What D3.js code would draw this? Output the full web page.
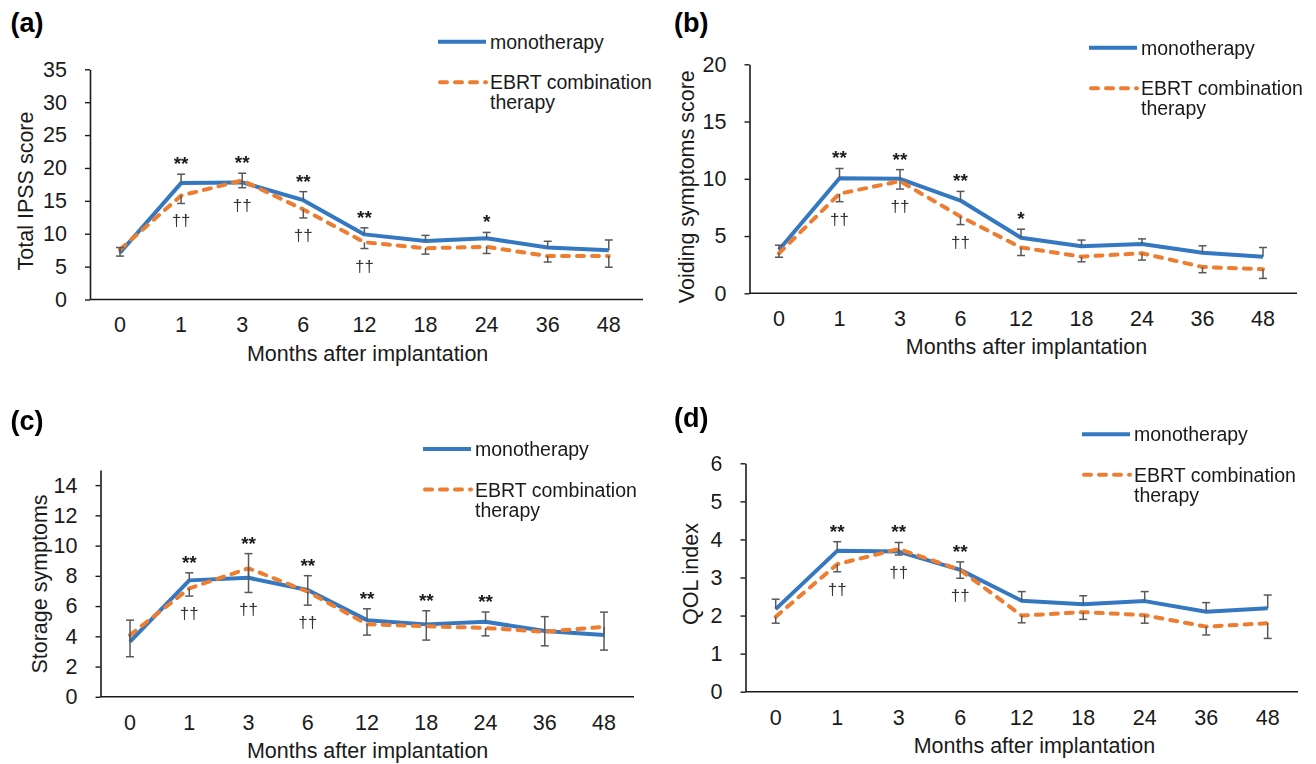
<!DOCTYPE html>
<html><head><meta charset="utf-8">
<script src="https://cdn.jsdelivr.net/npm/d3@7"></script>
<style>
html,body{margin:0;padding:0;background:#fff;}
svg{display:block;font-family:"Liberation Sans", Arial, sans-serif;}
.ann{opacity:0.995;will-change:transform;}
</style></head><body>
<svg id="chart" width="1316" height="764"></svg>
<script>
// ---------- data ----------
const months = ["0","1","3","6","12","18","24","36","48"];
const legendMono = "monotherapy";
const legendEbrt = ["EBRT combination", "therapy"];
const xTitle = "Months after implantation";

// (a) Total IPSS score
const monoIPSS    = [7.1, 17.7, 17.8, 15.1, 9.9, 8.9, 9.3, 7.9, 7.5];
const monoIPSSErr = [0.8, 1.35, 1.4, 1.3, 1.0, 0.85, 0.9, 0.95, 1.55];
const ebrtIPSS    = [7.6, 15.8, 18.1, 13.7, 8.7, 7.8, 8.0, 6.6, 6.6];
const ebrtIPSSErr = [1.0, 1.2, 1.1, 1.3, 0.95, 0.9, 1.0, 0.9, 1.7];
const starIPSS    = ["", "**", "**", "**", "**", "", "*", "", ""];
const daggerIPSS  = ["", "††", "††", "††", "††", "", "", "", ""];
const ticksIPSS   = [0, 5, 10, 15, 20, 25, 30, 35];

// (b) Voiding symptoms score
const monoVoid    = [3.8, 10.05, 10.0, 8.1, 4.85, 4.1, 4.3, 3.55, 3.2];
const monoVoidErr = [0.4, 0.85, 0.8, 0.8, 0.75, 0.55, 0.45, 0.6, 0.8];
const ebrtVoid    = [3.5, 8.7, 9.8, 6.7, 4.0, 3.2, 3.5, 2.3, 2.1];
const ebrtVoidErr = [0.35, 0.7, 0.7, 0.7, 0.7, 0.45, 0.6, 0.5, 0.8];
const starVoid    = ["", "**", "**", "**", "*", "", "", "", ""];
const daggerVoid  = ["", "††", "††", "††", "", "", "", "", ""];
const ticksVoid   = [0, 5, 10, 15, 20];

// (c) Storage symptoms
const monoStor    = [3.65, 7.7, 7.87, 7.06, 5.07, 4.79, 4.96, 4.35, 4.08];
const monoStorErr = [1.42, 0.5, 1.6, 0.95, 0.75, 0.9, 0.65, 0.95, 1.52];
const ebrtStor    = [4.08, 7.17, 8.5, 6.95, 4.8, 4.67, 4.55, 4.3, 4.63];
const ebrtStorErr = [1.43, 0.51, 1.6, 0.89, 0.72, 0.92, 0.52, 0.93, 1.54];
const starStor    = ["", "**", "**", "**", "**", "**", "**", "", ""];
const daggerStor  = ["", "††", "††", "††", "", "", "", "", ""];
const ticksStor   = [0, 2, 4, 6, 8, 10, 12, 14];

// (d) QOL index
const monoQOL     = [2.17, 3.7, 3.68, 3.2, 2.39, 2.3, 2.38, 2.1, 2.19];
const monoQOLErr  = [0.26, 0.24, 0.24, 0.21, 0.24, 0.22, 0.25, 0.24, 0.35];
const ebrtQOL     = [1.97, 3.35, 3.75, 3.2, 2.0, 2.09, 2.01, 1.71, 1.8];
const ebrtQOLErr  = [0.17, 0.2, 0.16, 0.22, 0.19, 0.19, 0.21, 0.22, 0.4];
const starQOL     = ["", "**", "**", "**", "", "", "", "", ""];
const daggerQOL   = ["", "††", "††", "††", "", "", "", "", ""];
const ticksQOL    = [0, 1, 2, 3, 4, 5, 6];

const panels = [
  {label:"(a)", yTitle:"Total IPSS score", yMax:35, ticks:ticksIPSS,
   mono:monoIPSS, monoErr:monoIPSSErr, ebrt:ebrtIPSS, ebrtErr:ebrtIPSSErr, star:starIPSS, dagger:daggerIPSS},
  {label:"(b)", yTitle:"Voiding symptoms score", yMax:20, ticks:ticksVoid,
   mono:monoVoid, monoErr:monoVoidErr, ebrt:ebrtVoid, ebrtErr:ebrtVoidErr, star:starVoid, dagger:daggerVoid},
  {label:"(c)", yTitle:"Storage symptoms", yMax:15, ticks:ticksStor,
   mono:monoStor, monoErr:monoStorErr, ebrt:ebrtStor, ebrtErr:ebrtStorErr, star:starStor, dagger:daggerStor},
  {label:"(d)", yTitle:"QOL index", yMax:6, ticks:ticksQOL,
   mono:monoQOL, monoErr:monoQOLErr, ebrt:ebrtQOL, ebrtErr:ebrtQOLErr, star:starQOL, dagger:daggerQOL}
];

// ---------- layout ----------
const layout = [
  {lab:[10.5,32], axisX:90,    x0:89.45,  step:61.1,  axisRight:643,  top:69.3,  bottom:299.5, yt:[26,191],   xt:367.6,  leg:[438,41.7]},
  {lab:[674,32],  axisX:749.5, x0:748.75, step:60.5,  axisRight:1297, top:64.3,  bottom:293.3, yt:[687,186.7], xt:1026.5, leg:[1089,47.7]},
  {lab:[10.5,430],axisX:100.5, x0:100.4,  step:59.25, axisRight:634,  top:470,   bottom:696.8, yt:[40,584],   xt:367.6,  leg:[423,449]},
  {lab:[674,427], axisX:745.5, x0:744.95, step:61.5,  axisRight:1298, top:463.3, bottom:691.7, yt:[691,574],  xt:1034.4, leg:[1082,434.3]}
];

const BLUE = "#3478c1", ORANGE = "#ed7d31", ERR = "#595959", INK = "#1a1a1a";
const FS = 21.5;

const svg = d3.select("#chart");

panels.forEach((p, i) => {
  const L = layout[i];
  const g = svg.append("g");
  const x = d3.scaleBand().domain(months).range([L.x0, L.x0 + L.step * months.length]);
  const cx = m => x(m) + x.bandwidth() / 2;
  const y = d3.scaleLinear().domain([0, p.yMax]).range([L.bottom, L.top]);

  // panel label
  g.append("text").attr("x", L.lab[0]).attr("y", L.lab[1])
    .attr("font-size", 27).attr("font-weight", "bold").attr("fill", "#000").text(p.label);

  // y axis
  const ya = g.append("g").attr("transform", `translate(${L.axisX},0)`)
    .call(d3.axisLeft(y).tickValues(p.ticks).tickSize(5).tickSizeOuter(0).tickPadding(18).tickFormat(d3.format("d")));
  ya.select(".domain").attr("stroke", INK).attr("stroke-width", 1.6);
  ya.selectAll(".tick line").attr("stroke", INK).attr("stroke-width", 1.4);
  ya.selectAll(".tick text").attr("font-size", FS).attr("fill", INK).attr("font-family", "Liberation Sans, Arial, sans-serif");

  // x axis
  const xa = g.append("g").attr("transform", `translate(0,${L.bottom})`)
    .call(d3.axisBottom(x).tickSize(0).tickPadding(17.7));
  xa.select(".domain").remove();
  xa.selectAll(".tick text").attr("font-size", FS).attr("fill", INK).attr("font-family", "Liberation Sans, Arial, sans-serif");
  g.append("line").attr("x1", L.axisX).attr("x2", L.axisRight).attr("y1", L.bottom).attr("y2", L.bottom)
    .attr("stroke", INK).attr("stroke-width", 1.6);

  // titles
  g.append("text").attr("x", L.xt).attr("y", L.bottom + 61).attr("text-anchor", "middle")
    .attr("font-size", FS).attr("fill", INK).text(xTitle);
  g.append("text").attr("transform", `translate(${L.yt[0]},${L.yt[1]}) rotate(-90)`)
    .attr("text-anchor", "middle").attr("dominant-baseline", "central")
    .attr("font-size", FS).attr("fill", INK).text(p.yTitle);

  // lines
  const line = arr => d3.line().x((d, j) => cx(months[j])).y(d => y(d))(arr);
  g.append("path").attr("d", line(p.mono)).attr("fill", "none").attr("stroke", BLUE)
    .attr("stroke-width", 4).attr("stroke-linejoin", "round");
  g.append("path").attr("d", line(p.ebrt)).attr("fill", "none").attr("stroke", ORANGE)
    .attr("stroke-width", 4).attr("stroke-dasharray", "7,8").attr("stroke-linecap", "round").attr("stroke-linejoin", "round");

  // error bars: monotherapy plus, EBRT minus
  const eb = g.append("g").attr("stroke", ERR).attr("stroke-width", 1.5);
  const ann = g.append("g").attr("class", "ann");
  months.forEach((m, j) => {
    const xm = cx(m);
    const yTop = y(p.mono[j] + p.monoErr[j]);
    eb.append("line").attr("x1", xm).attr("x2", xm).attr("y1", y(p.mono[j])).attr("y2", yTop);
    eb.append("line").attr("x1", xm - 4).attr("x2", xm + 4).attr("y1", yTop).attr("y2", yTop);
    const yBot = y(p.ebrt[j] - p.ebrtErr[j]);
    eb.append("line").attr("x1", xm).attr("x2", xm).attr("y1", y(p.ebrt[j])).attr("y2", yBot);
    eb.append("line").attr("x1", xm - 4).attr("x2", xm + 4).attr("y1", yBot).attr("y2", yBot);

    if (p.star[j]) {
      const top = Math.min(yTop, yBot, y(p.mono[j]), y(p.ebrt[j]));
      ann.append("text").attr("x", xm).attr("y", top - 4).attr("text-anchor", "middle")
        .attr("font-size", 19).attr("font-weight", "bold").attr("fill", INK).text(p.star[j]);
    }
    if (p.dagger[j]) {
      const bot = Math.max(yTop, yBot, y(p.mono[j]), y(p.ebrt[j]));
      ann.append("text").attr("x", xm).attr("y", bot + 23).attr("text-anchor", "middle")
        .attr("font-size", 17).attr("fill", "#333").text(p.dagger[j]);
    }
  });

  // legend
  const [lx, ly] = L.leg;
  const lg = g.append("g");
  lg.append("line").attr("x1", lx).attr("x2", lx + 48).attr("y1", ly).attr("y2", ly)
    .attr("stroke", BLUE).attr("stroke-width", 4);
  lg.append("text").attr("x", lx + 52).attr("y", ly).attr("dominant-baseline", "central")
    .attr("font-size", 19.5).attr("fill", INK).text(legendMono);
  lg.append("line").attr("x1", lx + 2).attr("x2", lx + 48).attr("y1", ly + 40.5).attr("y2", ly + 40.5)
    .attr("stroke", ORANGE).attr("stroke-width", 4).attr("stroke-dasharray", "7,8").attr("stroke-linecap", "round");
  legendEbrt.forEach((t, k) => {
    lg.append("text").attr("x", lx + 52).attr("y", ly + 40.5 + k * 20).attr("dominant-baseline", "central")
      .attr("font-size", 19.5).attr("fill", INK).text(t);
  });
});
</script>
</body></html>
